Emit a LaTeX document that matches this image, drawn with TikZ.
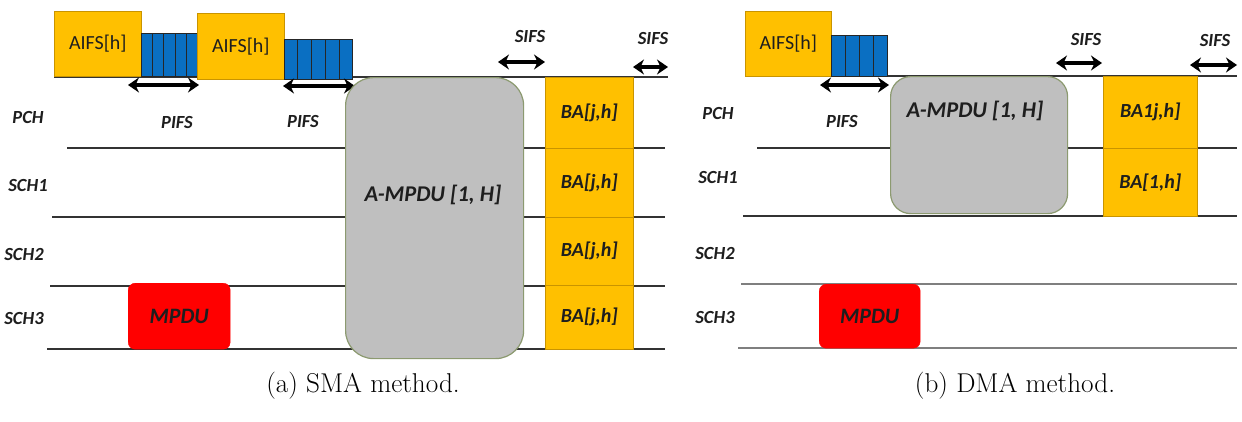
\documentclass[tikz,border=0pt]{standalone}
\usepackage{fontspec}
\newfontfamily\lblfont{Carlito}
\usetikzlibrary{arrows.meta,calc}
\definecolor{gold}{HTML}{FFC000}
\definecolor{goldline}{HTML}{C99400}
\definecolor{bluec}{HTML}{0A6FC2}
\definecolor{grayc}{HTML}{BFBFBF}
\definecolor{olivec}{HTML}{8C9A70}
\definecolor{txt}{HTML}{1E1E1E}
\definecolor{chanline}{HTML}{333333}
\definecolor{chanlight}{HTML}{7F7F7F}
\tikzset{
  chan/.style={draw=chanline, line width=2.2pt},
  chanlt/.style={draw=chanlight, line width=2.6pt},
  aifsbox/.style={fill=gold, draw=goldline, line width=0.6pt, anchor=north west, inner sep=0pt,
    text=txt, font=\lblfont\fontsize{20}{22}\selectfont},
  bluebox/.style={fill=bluec, draw=black!85, line width=1pt, anchor=north west, inner sep=0pt},
  ampdu/.style={fill=grayc, draw=olivec, line width=1.2pt, anchor=north west, inner sep=0pt},
  babox/.style={fill=gold, draw=goldline, line width=0.6pt, anchor=north west, inner sep=0pt,
    text=txt, font=\lblfont\bfseries\itshape\fontsize{20}{22}\selectfont},
  mpdubox/.style={fill=red, draw=red, rounded corners=7pt, anchor=north west, inner sep=0pt,
    text=txt, font=\lblfont\bfseries\itshape\fontsize{22}{24}\selectfont},
  lbl/.style={text=txt, font=\lblfont\bfseries\itshape\fontsize{18.5}{20}\selectfont, inner sep=0pt},
  bigl/.style={text=txt, font=\lblfont\bfseries\itshape\fontsize{22.5}{24}\selectfont, inner sep=0pt},
  dimarrow/.style={line width=3.4pt, draw=black, {Stealth[length=11pt,width=15pt]}-{Stealth[length=11pt,width=15pt]}},
  caption/.style={font=\fontsize{27.2}{30}\selectfont, text=black, inner sep=0pt}
}
\begin{document}
\begin{tikzpicture}[x=1pt,y=-1pt]
\useasboundingbox (0,0) rectangle (1242,421);
\fill[white] (0,0) rectangle (1242,421);

% ================= (a) SMA =================
\coordinate (la0s) at (54,77);   \coordinate (la0e) at (668,77);
\coordinate (la1s) at (67,148);  \coordinate (la1e) at (665,148);
\coordinate (la2s) at (52,217);  \coordinate (la2e) at (665,217);
\coordinate (la3s) at (50,286);  \coordinate (la3e) at (665,286);
\coordinate (la4s) at (47,349);  \coordinate (la4e) at (665,349);
\draw[chan] (la0s) -- (la0e);
\draw[chan] (la1s) -- (la1e);
\draw[chan] (la2s) -- (la2e);
\draw[chan] (la3s) -- (la3e);
\draw[chan] (la4s) -- (la4e);

\node[aifsbox, minimum width=87pt, minimum height=65pt] (aifs1) at (54,11) {AIFS[h]};
\node[bluebox, minimum width=56pt, minimum height=43pt] (blue1) at (141,33) {};
\foreach \i in {1,...,4} \draw[black!85, line width=1pt] ($(blue1.north west)!\i/5!(blue1.north east)$) -- ($(blue1.south west)!\i/5!(blue1.south east)$);
\node[aifsbox, minimum width=87pt, minimum height=66pt] (aifs2) at (197,13) {AIFS[h]};
\node[bluebox, minimum width=68pt, minimum height=40pt] (blue2) at (284,39) {};
\foreach \i in {1,...,4} \draw[black!85, line width=1pt] ($(blue2.north west)!\i/5!(blue2.north east)$) -- ($(blue2.south west)!\i/5!(blue2.south east)$);

\coordinate (pa1) at (128,85); \coordinate (pa2) at (199,85);
\draw[dimarrow] (pa1) -- (pa2);
\node[lbl] (pifsA1) at (177,123) {PIFS};
\coordinate (pb1) at (283,86); \coordinate (pb2) at (355,86);
\draw[dimarrow] (pb1) -- (pb2);
\node[lbl] (pifsA2) at (303,122) {PIFS};

\node[ampdu, minimum width=178pt, minimum height=281pt, rounded corners=28pt] (ampduA) at (345,77) {};
\node[bigl] (ampduAt) at (433,195) {A-MPDU [1, H]};

\node[babox, minimum width=88pt, minimum height=71pt] (baA0) at (545,77) {BA[j,h]};
\node[babox, minimum width=88pt, minimum height=69pt] (baA1) at (545,148) {BA[j,h]};
\node[babox, minimum width=88pt, minimum height=68pt] (baA2) at (545,217) {BA[j,h]};
\node[babox, minimum width=88pt, minimum height=64pt] (baA3) at (545,285) {BA[j,h]};

\coordinate (sa1) at (498,62); \coordinate (sa2) at (545,62);
\draw[dimarrow] (sa1) -- (sa2);
\node[lbl] (sifsA1) at (530,37) {SIFS};
\coordinate (sb1) at (633,67); \coordinate (sb2) at (668,67);
\draw[dimarrow] (sb1) -- (sb2);
\node[lbl] (sifsA2) at (653,39) {SIFS};

\node[mpdubox, minimum width=102pt, minimum height=66pt] (mpduA) at (128,283) {MPDU};

\node[lbl] (pchA) at (28,117) {PCH};
\node[lbl] (sch1A) at (28,185) {SCH1};
\node[lbl] (sch2A) at (24,254) {SCH2};
\node[lbl] (sch3A) at (24,318) {SCH3};

\node[caption] (capA) at (363,386) {(a) SMA method.};

% ================= (b) DMA =================
\coordinate (lb0s) at (745,76);  \coordinate (lb0e) at (1237,76);
\coordinate (lb1s) at (757,148); \coordinate (lb1e) at (1237,148);
\coordinate (lb2s) at (743,216); \coordinate (lb2e) at (1237,216);
\coordinate (lb3s) at (741,284); \coordinate (lb3e) at (1237,284);
\coordinate (lb4s) at (738,348); \coordinate (lb4e) at (1237,348);
\draw[chan] (lb0s) -- (lb0e);
\draw[chan] (lb1s) -- (lb1e);
\draw[chan] (lb2s) -- (lb2e);
\draw[chanlt] (lb3s) -- (lb3e);
\draw[chanlt] (lb4s) -- (lb4e);

\node[aifsbox, minimum width=86pt, minimum height=65pt] (aifs3) at (745,11) {AIFS[h]};
\node[bluebox, minimum width=56pt, minimum height=41pt] (blue3) at (831,35) {};
\foreach \i in {1,...,3} \draw[black!85, line width=1pt] ($(blue3.north west)!\i/4!(blue3.north east)$) -- ($(blue3.south west)!\i/4!(blue3.south east)$);

\coordinate (pc1) at (820,85); \coordinate (pc2) at (889,85);
\draw[dimarrow] (pc1) -- (pc2);
\node[lbl] (pifsB) at (842,122) {PIFS};

\node[ampdu, minimum width=177pt, minimum height=137pt, rounded corners=20pt] (ampduB) at (890,76) {};
\node[bigl] (ampduBt) at (975,111) {A-MPDU [1, H]};

\node[babox, minimum width=94pt, minimum height=72pt] (baB0) at (1103,76) {BA1j,h]};
\node[babox, minimum width=94pt, minimum height=68pt] (baB1) at (1103,148) {BA[1,h]};

\coordinate (sc1) at (1056,63); \coordinate (sc2) at (1102,63);
\draw[dimarrow] (sc1) -- (sc2);
\node[lbl] (sifsB1) at (1086,40) {SIFS};
\coordinate (sd1) at (1190,65); \coordinate (sd2) at (1237,65);
\draw[dimarrow] (sd1) -- (sd2);
\node[lbl] (sifsB2) at (1215,41) {SIFS};

\node[mpdubox, minimum width=101pt, minimum height=64pt] (mpduB) at (819,284) {MPDU};

\node[lbl] (pchB) at (718,113) {PCH};
\node[lbl] (sch1B) at (718,177) {SCH1};
\node[lbl] (sch2B) at (715,253) {SCH2};
\node[lbl] (sch3B) at (715,317) {SCH3};

\node[caption] (capB) at (1015,386) {(b) DMA method.};
\end{tikzpicture}
\end{document}
